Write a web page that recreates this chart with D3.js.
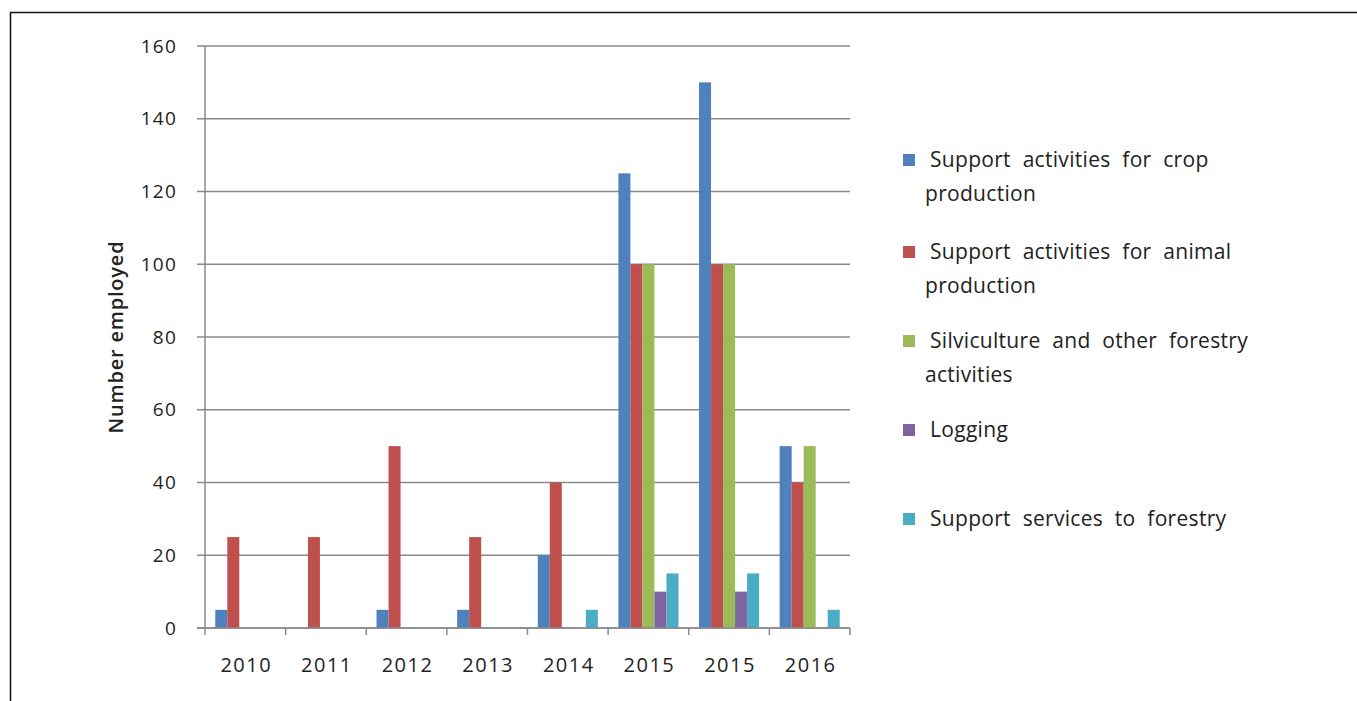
<!DOCTYPE html>
<html>
<head>
<meta charset="utf-8">
<script src="https://cdn.jsdelivr.net/npm/d3@7"></script>
<style>
  body { margin: 0; background: #fff; }
  svg { display: block; }
  text { font-family: "Open Sans", sans-serif; fill: #222; }
</style>
</head>
<body>
<svg id="chart" width="1357" height="701"></svg>
<script>
// chart data
const years = ['2010', '2011', '2012', '2013', '2014', '2015', '2015', '2016']
const seriesNames = [
    ['Support activities for crop', 'production'],
    ['Support activities for animal', 'production'],
    ['Silviculture and other forestry', 'activities'],
    ['Logging'],
    ['Support services to forestry']
]
const cropValues = [5, 0, 5, 5, 20, 125, 150, 50]
const animalValues = [25, 25, 50, 25, 40, 100, 100, 40]
const silvicultureValues = [0, 0, 0, 0, 0, 100, 100, 50]
const loggingValues = [0, 0, 0, 0, 0, 10, 10, 0]
const servicesValues = [0, 0, 0, 0, 5, 15, 15, 5]
const yTicks = [0, 20, 40, 60, 80, 100, 120, 140, 160]

const colors = ['#4F81BD', '#C0504D', '#9BBB59', '#8064A2', '#4BACC6']
const allSeries = [cropValues, animalValues, silvicultureValues, loggingValues, servicesValues]

let svg = d3.select('#chart')

// outer frame (top and left edges only, as in the scan)
svg.append('line').attr('x1', 10).attr('x2', 1357).attr('y1', 12.5).attr('y2', 12.5)
    .attr('stroke', '#111').attr('stroke-width', 1.5)
svg.append('line').attr('x1', 10.5).attr('x2', 10.5).attr('y1', 12).attr('y2', 701)
    .attr('stroke', '#111').attr('stroke-width', 1.5)

let plotLeft = 205, plotRight = 850, plotTop = 46, plotBottom = 628

// categories keyed by index, since 2015 appears twice
let x0 = d3.scaleBand()
    .domain(d3.range(years.length))
    .range([plotLeft, plotRight])
    .paddingInner(0.255)
    .paddingOuter(0.1275)

let x1 = d3.scaleBand()
    .domain(d3.range(allSeries.length))
    .range([0, x0.bandwidth()])

let y = d3.scaleLinear().domain([0, 160]).range([plotBottom, plotTop])

// gridlines
svg.append('g')
    .selectAll('line')
    .data(yTicks)
    .enter().append('line')
    .attr('x1', plotLeft - 8)
    .attr('x2', plotRight)
    .attr('y1', d => y(d))
    .attr('y2', d => y(d))
    .attr('stroke', '#8a8a8a')
    .attr('stroke-width', 1.5)

// y axis line
svg.append('line')
    .attr('x1', plotLeft).attr('x2', plotLeft)
    .attr('y1', plotTop).attr('y2', plotBottom)
    .attr('stroke', '#8a8a8a').attr('stroke-width', 1.5)

// y tick labels
svg.append('g')
    .selectAll('text')
    .data(yTicks)
    .enter().append('text')
    .attr('x', 177)
    .attr('y', d => y(d))
    .attr('dy', '0.35em')
    .attr('text-anchor', 'end')
    .style('font-size', '19px')
    .style('letter-spacing', '1.2px')
    .text(d => d)

// y axis title
svg.append('text')
    .attr('transform', 'translate(123,' + ((plotTop + plotBottom) / 2) + ') rotate(-90)')
    .attr('text-anchor', 'middle')
    .style('font-size', '20px')
    .style('font-weight', '600')
    .style('letter-spacing', '0.8px')
    .text('Number employed')

// bars
svg.append('g')
    .selectAll('g')
    .data(years.map((yr, i) => i))
    .enter().append('g')
    .attr('transform', i => 'translate(' + x0(i) + ',0)')
    .selectAll('rect')
    .data(i => allSeries.map((s, k) => ({ k: k, v: s[i] })))
    .enter().append('rect')
    .attr('x', d => x1(d.k))
    .attr('width', x1.bandwidth())
    .attr('y', d => y(d.v))
    .attr('height', d => y(0) - y(d.v))
    .attr('fill', d => colors[d.k])

// x axis line and tick marks at category boundaries
svg.append('line')
    .attr('x1', plotLeft - 8).attr('x2', plotRight)
    .attr('y1', plotBottom).attr('y2', plotBottom)
    .attr('stroke', '#8a8a8a').attr('stroke-width', 1.5)

let step = x0.step()
svg.append('g')
    .selectAll('line')
    .data(d3.range(years.length + 1))
    .enter().append('line')
    .attr('x1', i => plotLeft + i * step)
    .attr('x2', i => plotLeft + i * step)
    .attr('y1', plotBottom)
    .attr('y2', plotBottom + 7)
    .attr('stroke', '#8a8a8a')
    .attr('stroke-width', 1.5)

// x labels
svg.append('g')
    .selectAll('text')
    .data(years)
    .enter().append('text')
    .attr('x', (d, i) => x0(i) + x0.bandwidth() / 2 + 1)
    .attr('y', 672)
    .attr('text-anchor', 'middle')
    .style('font-size', '20px')
    .style('letter-spacing', '1.5px')
    .text(d => d)

// legend
let legendY = [160, 252, 341, 430, 519]
let legend = svg.append('g')
    .selectAll('g')
    .data(seriesNames)
    .enter().append('g')
    .attr('transform', (d, i) => 'translate(903,' + legendY[i] + ')')

legend.append('rect')
    .attr('x', 0).attr('y', -6)
    .attr('width', 12).attr('height', 12)
    .attr('fill', (d, i) => colors[i])

legend.each(function (lines) {
    let g = d3.select(this)
    lines.forEach((line, j) => {
        g.append('text')
            .attr('x', j === 0 ? 27 : 22)
            .attr('y', j * 34)
            .attr('dy', '0.35em')
            .style('font-size', '21px')
            .style('letter-spacing', '0.3px')
            .style('word-spacing', '6px')
            .text(line)
    })
})
</script>
</body>
</html>
